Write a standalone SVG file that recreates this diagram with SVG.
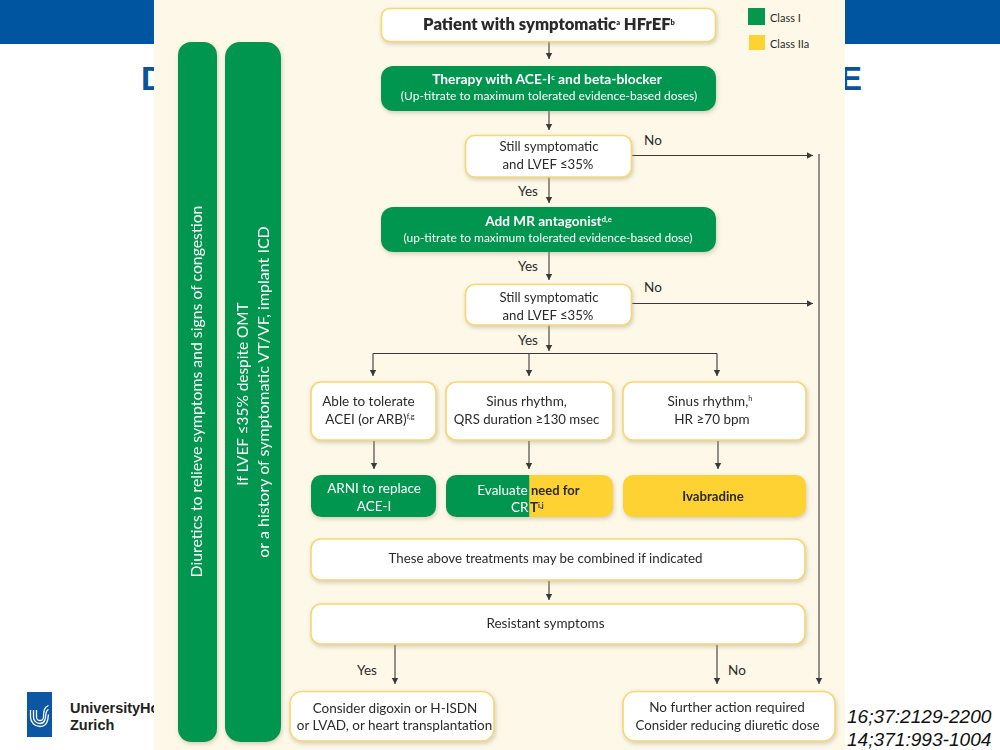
<svg xmlns="http://www.w3.org/2000/svg" width="1000" height="750" viewBox="0 0 1000 750">
<style>
text{font-family:"Lato","Open Sans","Liberation Sans",sans-serif;font-size:13.5px;fill:#2b2a29;text-anchor:middle}
.w{fill:#fff;stroke:#f6d774;stroke-width:1.6}
.g{fill:#05964f}
.y{fill:#fdd232}
.wt{fill:#fff}
.b{font-weight:700}
.sup{font-size:7.5px}
.l{fill:none;stroke:#3a3a38;stroke-width:1.1}
.a{marker-end:url(#ah)}
.title{font-family:"Liberation Sans",sans-serif;font-weight:700;font-size:33px;fill:#0a5299;text-anchor:start}
.cite{font-family:"Liberation Sans",sans-serif;font-style:italic;font-size:19.1px;fill:#111;text-anchor:start}
.uni{font-family:"Liberation Sans",sans-serif;font-weight:700;font-size:14.5px;fill:#222;text-anchor:start}
</style>
<defs>
<marker id="ah" markerUnits="userSpaceOnUse" markerWidth="8" markerHeight="8" refX="6.500" refY="4" orient="auto"><path d="M0 0.500L6.500 4L0 7.500Z" fill="#3a3a38"/></marker>
<filter id="s" x="-10%" y="-20%" width="120%" height="140%"><feDropShadow dx="1" dy="2" stdDeviation="2" flood-color="#a09a80" flood-opacity=".45"/></filter>
<clipPath id="cl"><rect x="446" y="475" width="83.500" height="42"/></clipPath>
<clipPath id="cr"><rect x="529.500" y="475" width="84" height="42"/></clipPath>
</defs>

<g id="slide">
<rect x="0" y="0" width="1000" height="750" fill="#fff"/>
<rect x="0" y="0" width="1000" height="44" fill="#0055a0"/>
<text class="title" x="141" y="90">D</text>
<text class="title" x="840" y="90">E</text>
<g id="logo">
<rect x="27" y="692" width="25" height="45" fill="#0b57a4"/>
<path d="M30.500 710v7a9.500 9.500 0 0 0 9.500 9.500c7 0 8-6 8.500-12M33.500 710v7a6.500 6.500 0 0 0 6.500 6.500c5 0 5.500-5 6-10 .3-2 1-3.500 2.500-4M36.500 710v7a3.500 3.500 0 0 0 7 0c.2-6 .5-10 5-11.500" fill="none" stroke="#fff" stroke-width="1.300"/>
</g>
<text class="uni" x="70" y="713">UniversityHo</text>
<text class="uni" x="70" y="730">Zurich</text>
<rect id="panel" x="154" y="0" width="691" height="750" fill="#fdf8e8"/>
<text class="cite" x="847" y="723">16;37:2129-2200</text>
<text class="cite" x="847" y="746">14;371:993-1004</text>
</g>

<g id="connectors">
<path class="l a" d="M549 41V59"/>
<path class="l a" d="M549 111V130"/>
<path class="l a" d="M549 177V203"/>
<path class="l a" d="M549 252V280"/>
<path class="l a" d="M549 325V351"/>
<path class="l" d="M373 353.500H717"/>
<path class="l a" d="M373 353.500V376"/>
<path class="l a" d="M529 353.500V376"/>
<path class="l a" d="M717 353.500V376"/>
<path class="l a" d="M374 441V469"/>
<path class="l a" d="M529 441V469"/>
<path class="l a" d="M718 441V469"/>
<path class="l a" d="M549 581V600"/>
<path class="l a" d="M395 645V684"/>
<path class="l a" d="M717 645V684"/>
<path class="l a" d="M632 155.500H813"/>
<path class="l a" d="M632 303.500H813"/>
<path class="l a" d="M819 154V684"/>
<text x="653" y="145">No</text>
<text x="528" y="196">Yes</text>
<text x="528" y="271">Yes</text>
<text x="653" y="292">No</text>
<text x="528" y="345">Yes</text>
<text x="367" y="675">Yes</text>
<text x="737" y="675">No</text>
</g>

<g id="legend">
<rect class="g" x="748" y="8" width="17" height="17"/>
<text x="770" y="22" style="text-anchor:start;font-size:11px">Class I</text>
<rect class="y" x="749" y="35" width="16" height="15"/>
<text x="770" y="48" style="text-anchor:start;font-size:11px">Class IIa</text>
</g>

<g id="bar-diuretics" filter="url(#s)">
<rect class="g" x="178" y="42" width="39" height="700" rx="13"/>
<text class="wt" transform="translate(202,391.500) rotate(-90)" style="font-size:15.800px">Diuretics to relieve symptoms and signs of congestion</text>
</g>
<g id="bar-icd" filter="url(#s)">
<rect class="g" x="225" y="42" width="56" height="700" rx="15"/>
<text class="wt" transform="translate(247.500,394) rotate(-90)" style="font-size:15.400px">If LVEF ≤35% despite OMT</text>
<text class="wt" transform="translate(269,392) rotate(-90)" style="font-size:16px">or a history of symptomatic VT/VF, implant ICD</text>
</g>

<g id="n-patient" filter="url(#s)">
<rect class="w" x="381.500" y="8.500" width="334" height="33" rx="8"/>
<text x="549" y="30" style="font-size:16.600px;font-weight:800">Patient with symptomatic<tspan class="sup" dy="-5">a</tspan><tspan dy="5"> HFrEF</tspan><tspan class="sup" dy="-5">b</tspan></text>
</g>
<g id="n-therapy" filter="url(#s)">
<rect class="g" x="381" y="66" width="335" height="45" rx="12"/>
<text class="wt b" x="547" y="84" style="font-size:13.800px">Therapy with ACE-I<tspan class="sup" dy="-4">c</tspan><tspan dy="4"> and beta-blocker</tspan></text>
<text class="wt" x="549" y="100" style="font-size:12px">(Up-titrate to maximum tolerated evidence-based doses)</text>
</g>
<g id="n-still1" filter="url(#s)">
<rect class="w" x="465.500" y="135.500" width="166" height="41.500" rx="9"/>
<text x="549" y="151" style="font-size:13.200px">Still symptomatic</text>
<text x="548" y="168.500" style="font-size:13.200px">and LVEF ≤35%</text>
</g>
<g id="n-mra" filter="url(#s)">
<rect class="g" x="381" y="207" width="335" height="45" rx="12"/>
<text class="wt b" x="548.500" y="226" style="font-size:13.600px">Add MR antagonist<tspan class="sup" dy="-4">d,e</tspan></text>
<text class="wt" x="548" y="242" style="font-size:12px">(up-titrate to maximum tolerated evidence-based dose)</text>
</g>
<g id="n-still2" filter="url(#s)">
<rect class="w" x="465.500" y="284.500" width="166" height="40.500" rx="9"/>
<text x="549" y="302" style="font-size:13.200px">Still symptomatic</text>
<text x="548" y="320" style="font-size:13.200px">and LVEF ≤35%</text>
</g>
<g id="n-able" filter="url(#s)">
<rect class="w" x="311" y="382" width="125" height="58" rx="10"/>
<text x="368.500" y="406">Able to tolerate</text>
<text x="370" y="424">ACEI (or ARB)<tspan class="sup" dy="-5">f,g</tspan></text>
</g>
<g id="n-sinus-qrs" filter="url(#s)">
<rect class="w" x="446" y="382" width="167" height="58" rx="10"/>
<text x="526.500" y="406">Sinus rhythm,</text>
<text x="526.500" y="424" style="font-size:13.200px">QRS duration ≥130 msec</text>
</g>
<g id="n-sinus-hr" filter="url(#s)">
<rect class="w" x="623" y="382" width="183" height="58" rx="10"/>
<text x="710" y="406">Sinus rhythm,<tspan class="sup" dy="-5">h</tspan></text>
<text x="712" y="424">HR ≥70 bpm</text>
</g>
<g id="n-arni" filter="url(#s)">
<rect class="g" x="311" y="475" width="125" height="42" rx="10"/>
<text class="wt" x="374" y="493">ARNI to replace</text>
<text class="wt" x="374" y="511">ACE-I</text>
</g>
<g id="n-crt" filter="url(#s)">
<rect class="g" x="446" y="475" width="167" height="42" rx="10" clip-path="url(#cl)"/>
<rect class="y" x="446" y="475" width="167" height="42" rx="10" clip-path="url(#cr)"/>
<text class="wt" x="502.500" y="495" clip-path="url(#cl)">Evaluate</text>
<text x="531" y="495" style="text-anchor:start;font-weight:700;font-size:13px">need for</text>
<text class="wt" x="511" y="512" style="text-anchor:start" clip-path="url(#cl)">CR</text>
<text x="530" y="512" style="text-anchor:start;font-weight:700">T<tspan class="sup" dy="-4">i,j</tspan></text>
</g>
<g id="n-ivabradine" filter="url(#s)">
<rect class="y" x="623" y="475" width="183" height="42" rx="10"/>
<text x="713" y="501" style="font-weight:700;font-size:13.200px">Ivabradine</text>
</g>
<g id="n-combined" filter="url(#s)">
<rect class="w" x="311" y="539" width="494" height="41" rx="10"/>
<text x="545.500" y="563" style="font-size:13.300px">These above treatments may be combined if indicated</text>
</g>
<g id="n-resistant" filter="url(#s)">
<rect class="w" x="311" y="604" width="494" height="40" rx="10"/>
<text x="545.500" y="628">Resistant symptoms</text>
</g>
<g id="n-consider" filter="url(#s)">
<rect class="w" x="290" y="691.500" width="204" height="49.500" rx="12"/>
<text x="395" y="713">Consider digoxin or H-ISDN</text>
<text x="394.500" y="730">or LVAD, or heart transplantation</text>
</g>
<g id="n-nofurther" filter="url(#s)">
<rect class="w" x="623" y="691.500" width="212" height="49.500" rx="12"/>
<text x="727" y="712">No further action required</text>
<text x="727.500" y="730" style="font-size:13.300px">Consider reducing diuretic dose</text>
</g>
</svg>
